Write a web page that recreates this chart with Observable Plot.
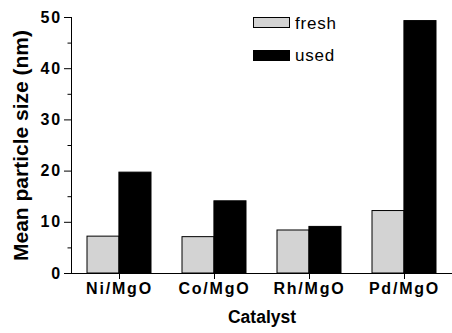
<!DOCTYPE html>
<html>
<head>
<meta charset="utf-8">
<script src="https://cdn.jsdelivr.net/npm/d3@7"></script>
<script src="https://cdn.jsdelivr.net/npm/@observablehq/plot@0.6"></script>
<style>
  html, body { margin: 0; padding: 0; background: #fff; }
  #wrap { position: relative; width: 452px; height: 333px; font-family: "Liberation Sans", Arial, sans-serif; }
  #wrap svg g[aria-label="y-axis tick label"] text,
  #wrap svg g[aria-label="x-axis tick label"] text { letter-spacing: 1.8px; }
  .sw { position: absolute; left: 253px; width: 37px; box-sizing: border-box; }
  .lt { position: absolute; left: 295px; font-size: 17px; line-height: 17px; letter-spacing: 0.8px; color: #000; }
</style>
</head>
<body>
<div id="wrap"></div>
<script>
const categories = ["Ni/MgO", "Co/MgO", "Rh/MgO", "Pd/MgO"];
const fresh = [7.2, 7.1, 8.4, 12.2];
const used = [19.7, 14.1, 9.1, 49.3];
const yTicks = [0, 10, 20, 30, 40, 50];
const yMinorTicks = [5, 15, 25, 35, 45];
const seriesNames = ["fresh", "used"];
const seriesColors = ["#d3d3d3", "#000000"];

const W = 452, H = 333, mL = 71, mR = 0, mT = 17, mB = 60;
const pIn = 0.33, pOut = 0.165;
const step = (W - mL - mR) / (categories.length - pIn + 2 * pOut);
const half = step * (1 - pIn) / 2;

const chart = Plot.plot({
  width: W, height: H,
  marginLeft: mL, marginRight: mR, marginTop: mT, marginBottom: mB,
  style: { fontFamily: "'Liberation Sans', Arial, sans-serif", background: "white", overflow: "visible" },
  x: { domain: categories, paddingInner: pIn, paddingOuter: pOut, axis: null },
  y: { domain: [0, 50], axis: null },
  marks: [
    Plot.barY(categories, { x: d => d, y: (d, i) => fresh[i], fill: seriesColors[0], stroke: "black", strokeWidth: 1, insetRight: half }),
    Plot.barY(categories, { x: d => d, y: (d, i) => used[i], fill: seriesColors[1], stroke: "black", strokeWidth: 1, insetLeft: half }),
    Plot.ruleY([0], { stroke: "black", strokeWidth: 1 }),
    Plot.frame({ anchor: "left", stroke: "black", strokeWidth: 1 }),
    Plot.axisY({ ticks: yTicks, tickSize: 7, tickPadding: 2.5, fontSize: 16, fontWeight: "bold", label: null, stroke: "black", strokeOpacity: 1 }),
    Plot.axisY({ ticks: yMinorTicks, tickSize: 3.5, tickFormat: () => "", label: null, stroke: "black", strokeOpacity: 1 }),
    Plot.axisX({ tickSize: 6, tickPadding: 3, fontSize: 16, fontWeight: "bold", label: null, stroke: "black", strokeOpacity: 1 }),
    Plot.text(["Catalyst"], { frameAnchor: "bottom", textAnchor: "middle", dy: 49, fontSize: 17.5, fontWeight: "bold", fill: "black" }),
    Plot.text(["Mean particle size (nm)"], { frameAnchor: "left", textAnchor: "middle", rotate: -90, dx: -50.7, fontSize: 21, fontWeight: "bold", fill: "black" })
  ]
});
const wrap = document.getElementById("wrap");
wrap.appendChild(chart);

// legend (HTML, over the plot)
const legendTops = [{ sw: 17, h: 11, t: 15 }, { sw: 50, h: 10.5, t: 47.3 }];
seriesNames.forEach((name, i) => {
  const sw = document.createElement("div");
  sw.className = "sw";
  sw.style.top = legendTops[i].sw + "px";
  sw.style.height = legendTops[i].h + "px";
  sw.style.background = seriesColors[i];
  sw.style.border = "1px solid #000";
  wrap.appendChild(sw);
  const t = document.createElement("div");
  t.className = "lt";
  t.style.top = legendTops[i].t + "px";
  t.textContent = name;
  wrap.appendChild(t);
});
</script>
</body>
</html>
